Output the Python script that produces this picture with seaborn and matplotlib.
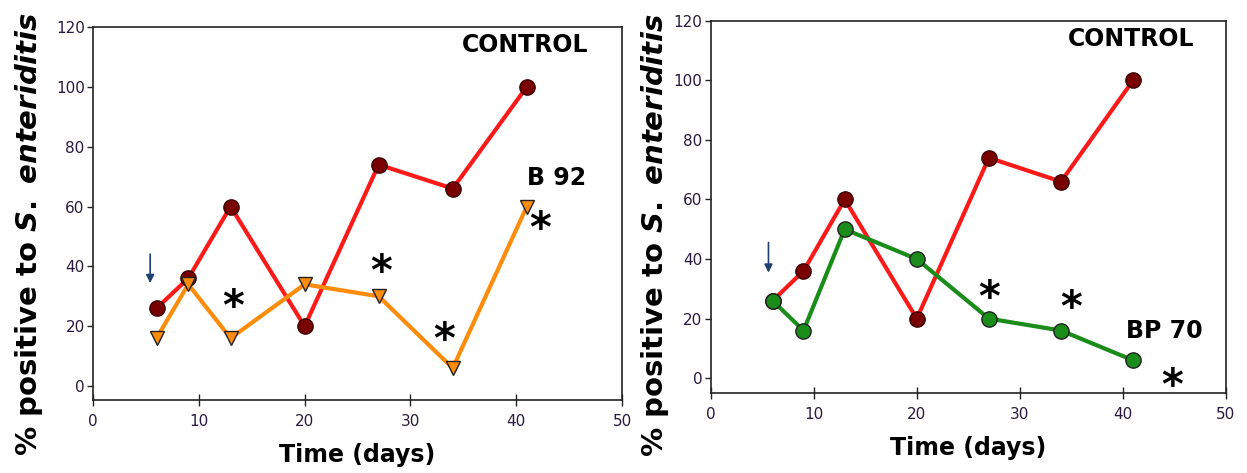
"""
Recreate two-panel S. enteriditis infection time-course chart.
"""

import pandas as pd
import matplotlib
matplotlib.use('Agg')
import matplotlib.pyplot as plt
import seaborn as sns

# data
days = [6, 9, 13, 20, 27, 34, 41]
control = [26, 36, 60, 20, 74, 66, 100]
b92 = [16, 34, 16, 34, 30, 6, 60]
bp70 = [26, 16, 50, 40, 20, 16, 6]

# significance asterisks (x, y) per panel
stars_left = [(13.2, 29), (27.2, 40.5), (33.2, 18), (42.3, 55)]
stars_right = [(27, 29.5), (35, 26), (44.8, 0)]

x_ticks = [0, 10, 20, 30, 40, 50]
y_ticks = [0, 20, 40, 60, 80, 100, 120]

sns.set_style('white')
plt.rcParams['font.family'] = ['DejaVu Sans']
plt.rcParams['mathtext.fontset'] = 'custom'
plt.rcParams['mathtext.it'] = 'DejaVu Sans:bold:italic'
plt.rcParams['mathtext.rm'] = 'DejaVu Sans:bold'
plt.rcParams['text.color'] = 'black'
plt.rcParams['axes.labelcolor'] = 'black'

RED = '#ff1a1a'
DARKRED = '#7a0000'
ORANGE = '#ff8c0a'
GREEN = '#1a8c1a'

fig = plt.figure(figsize=(12.47, 4.73), dpi=100)
ax1 = fig.add_axes([0.0746, 0.154, 0.4242, 0.789])
ax2 = fig.add_axes([0.570, 0.169, 0.413, 0.787])


def draw_panel(ax, treat, treat_color, treat_marker, ms, ylow, arrow_x, arrow_top, arrow_tip):
    df_c = pd.DataFrame({'day': days, 'pct': control})
    df_t = pd.DataFrame({'day': days, 'pct': treat})
    sns.lineplot(data=df_c, x='day', y='pct', ax=ax, color=RED, linewidth=3,
                 marker='o', markersize=11, markerfacecolor=DARKRED,
                 markeredgecolor='#3a0000', markeredgewidth=1, zorder=3)
    sns.lineplot(data=df_t, x='day', y='pct', ax=ax, color=treat_color, linewidth=3,
                 marker=treat_marker, markersize=ms, markerfacecolor=treat_color,
                 markeredgecolor='#222222', markeredgewidth=1, zorder=4)
    ax.set_xlim(0, 50)
    ax.set_ylim(ylow, 120)
    ax.set_xticks(x_ticks)
    ax.set_yticks(y_ticks)
    ax.tick_params(axis='both', labelsize=11, labelcolor='#2a1a40',
                   length=4, left=True, bottom=True, width=1, color='#222222')
    ax.tick_params(axis='y', direction='out', pad=2)
    ax.tick_params(axis='x', direction='inout', length=8, pad=6)
    for sp in ax.spines.values():
        sp.set_color('#222222')
        sp.set_linewidth(1.2)
    ax.set_xlabel('Time (days)', fontsize=17, fontweight='bold', labelpad=10)
    ax.set_ylabel(r'% positive to $\mathit{S.\ enteriditis}$', fontsize=21,
                  fontweight='bold')
    ax.text(40.8, 114, 'CONTROL', fontsize=17, fontweight='bold', ha='center', va='center')
    # arrow marking treatment start
    ax.annotate('', xy=(arrow_x, arrow_tip), xytext=(arrow_x, arrow_top),
                arrowprops=dict(arrowstyle='-|>', color='#1f3f6f', lw=1.2,
                                mutation_scale=12))


def draw_stars(ax, stars):
    for x, y in stars:
        ax.annotate('*', xy=(x, y), xytext=(0, -6), textcoords='offset points',
                    fontsize=30, fontweight='bold', ha='center', va='center')


draw_panel(ax1, b92, ORANGE, 'v', 10, -4.7, 5.4, 45, 33.5)
draw_panel(ax2, bp70, GREEN, 'o', 11, -5.0, 5.6, 46.5, 34.5)

ax1.text(43.8, 69.5, 'B 92', fontsize=17, fontweight='bold', ha='center', va='center')
ax2.text(44, 16, 'BP 70', fontsize=17, fontweight='bold', ha='center', va='center')

draw_stars(ax1, stars_left)
draw_stars(ax2, stars_right)

ax1.yaxis.set_label_coords(-0.09, 0.445)
ax2.yaxis.set_label_coords(-0.078, 0.425)

plt.savefig('out.png', dpi=100)
plt.close()
